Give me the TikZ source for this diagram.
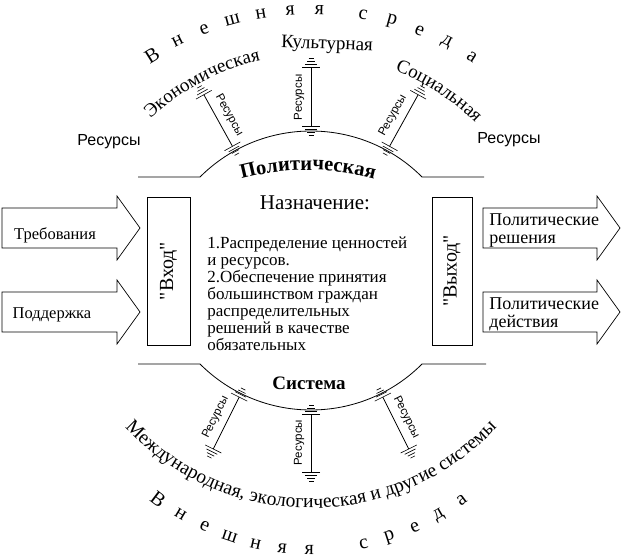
\documentclass[tikz,border=0pt]{standalone}
\usepackage{fontspec}
\setmainfont{Liberation Serif}
\newfontfamily\ressans{Liberation Sans}
\newfontfamily\boxfont{Liberation Serif}
\usetikzlibrary{decorations.text}

\newcommand\envfont{\fontsize{19}{19}\selectfont}
\newcommand\sysfont{\bfseries\fontsize{20.5}{20.5}\selectfont}

\tikzset{
	blockarrow/.style={draw,line width=0.7pt,line join=miter},
	lbl/.style={font=\fontsize{16.5}{18.5}\selectfont,inner sep=0pt},
	outlbl/.style={font=\fontsize{18}{18.5}\selectfont,inner sep=0pt,anchor=north west,align=left},
	envletter/.style={font=\fontsize{20}{20}\selectfont,inner sep=0pt},
	reslbl/.style={font=\ressans\fontsize{11.5}{12}\selectfont,inner sep=0pt},
	sidebox/.style={draw,line width=0.7pt,rotate=90,inner sep=0pt,font=\boxfont\fontsize{20}{20}\selectfont},
}

% resource line with ground-like ends: #1 angle, #2 inner radius, #3 outer radius
\newcommand\resline[3]{%
	\begin{scope}[rotate=#1-90]
		\draw (0,#2) -- (0,#3);
		\foreach \d/\w in {0/9,3/6,6/4,9/2.5} {
			\draw[line width=0.6pt] (-\w,#3+\d) -- (\w,#3+\d);
			\draw[line width=0.6pt] (-\w,#2-\d) -- (\w,#2-\d);
		}
	\end{scope}}

\begin{document}
\begin{tikzpicture}[x=1pt,y=1pt,line width=0.8pt]
		\useasboundingbox (0,0) rectangle (623,558);
		\coordinate (top) at (311,270);
		\coordinate (bot) at (311,305);
		%system border
		\draw (138,381) -- (200,381) arc[start angle=135,end angle=45,radius=157] -- (484,381);
		\draw (138,194) -- (200,194) arc[start angle=225,end angle=315,radius=157] -- (486,194);
		\path[decorate,decoration={text along path,text align=center,text={|\sysfont|Политическая}}]
			(308,130) ++(108:258) arc[start angle=108,end angle=72,radius=258];
		\node[font=\bfseries\fontsize{19}{19}\selectfont] (sys) at (309,175) {Система};
		%resources
		\begin{scope}[shift={(top)}]
			\foreach \a/\s/\r in {119/-1/-61,90/1/90,61/1/61} {
				\resline{\a}{162}{221}
				\node[reslbl,rotate=\r] (rt\a) at ({\a+\s*3.6}:191) {Ресурсы};
			}
		\end{scope}
		\begin{scope}[shift={(bot)}]
			\foreach \a/\s/\r in {243.5/-1/63.5,270/-1/90,296.5/1/-63.5} {
				\resline{\a}{161}{219}
				\node[reslbl,rotate=\r] (rb\a) at ({\a+\s*3.6}:190) {Ресурсы};
			}
		\end{scope}
		\node[font=\ressans\fontsize{16}{16}\selectfont] (resl) at (109,416) {Ресурсы};
		\node[font=\ressans\fontsize{16}{16}\selectfont] (resr) at (509,418) {Ресурсы};
		%environment
		\path[decorate,decoration={text along path,text align=center,text={|\envfont|Экономическая}}]
			(top) ++(140:233) arc[start angle=140,end angle=96,radius=233];
		\node[font=\envfont,rotate=-2] (kult) at (327,513) {Культурная};
		\path[decorate,decoration={text along path,text align=center,text={|\envfont|Социальная}}]
			(top) ++(71:233) arc[start angle=71,end angle=43,radius=233];
		\path[decorate,decoration={text along path,text align=center,
			text={|\fontsize{19.5}{19.5}\selectfont|Международная, экологическая и другие системы}}]
			(bot) ++(220:255) arc[start angle=220,end angle=320,radius=255];
		\begin{scope}[shift={(311,248)}]
			\foreach \l [count=\i from 0] in {В,н,е,ш,н,я,я}
			\node[envletter,rotate={32-5.6*\i}] (wt\i) at ({122-5.6*\i}:300) {\l};
			\foreach \l [count=\i from 0] in {с,р,е,д,а}
			\node[envletter,rotate={-10-5.6*\i}] (ws\i) at ({80-5.6*\i}:300) {\l};
		\end{scope}
		\begin{scope}[shift={(311,262)}]
			\foreach \l [count=\i from 0] in {В,н,е,ш,н,я,я}
			\node[envletter,rotate={-37+6.1*\i}] (bt\i) at ({233+6.1*\i}:254) {\l};
			\foreach \l [count=\i from 0] in {с,р,е,д,а}
			\node[envletter,rotate={12+6.1*\i}] (bs\i) at ({282+6.1*\i}:254) {\l};
		\end{scope}
		%input and output
		\foreach \y in {330,246} {
			\draw[blockarrow] (2,\y+20) -- (117,\y+20) -- (117,\y+32) -- (140,\y) -- (117,\y-32) -- (117,\y-20) -- (2,\y-20) -- cycle;
			\draw[blockarrow] (483,\y+20) -- (597,\y+20) -- (597,\y+32) -- (620,\y) -- (597,\y-32) -- (597,\y-20) -- (483,\y-20) -- cycle;
		}
		\node[lbl,anchor=base] (treb) at (55,319) {Требования};
		\node[lbl,anchor=base] (podd) at (52,240) {Поддержка};
		\node[outlbl] (resh) at (489,345) {Политические\\решения};
		\node[outlbl] (deys) at (489,261) {Политические\\действия};
		\node[sidebox,minimum width=148pt,minimum height=43pt] (vhod) at (168.5,287) {"Вход"};
		\node[sidebox,minimum width=148pt,minimum height=40pt] (vyhod) at (452,287) {"Выход"};
		%purpose
		\node[font=\fontsize{21}{21}\selectfont] (naz) at (315,355) {Назначение:};
		\node[anchor=north west,align=left,inner sep=0pt,font=\fontsize{17}{17}\selectfont] (goal) at (207,322)
			{1.Распределение ценностей\\и ресурсов.\\2.Обеспечение принятия\\большинством граждан\\распределительных\\решений в качестве\\обязательных};
\end{tikzpicture}
\end{document}
